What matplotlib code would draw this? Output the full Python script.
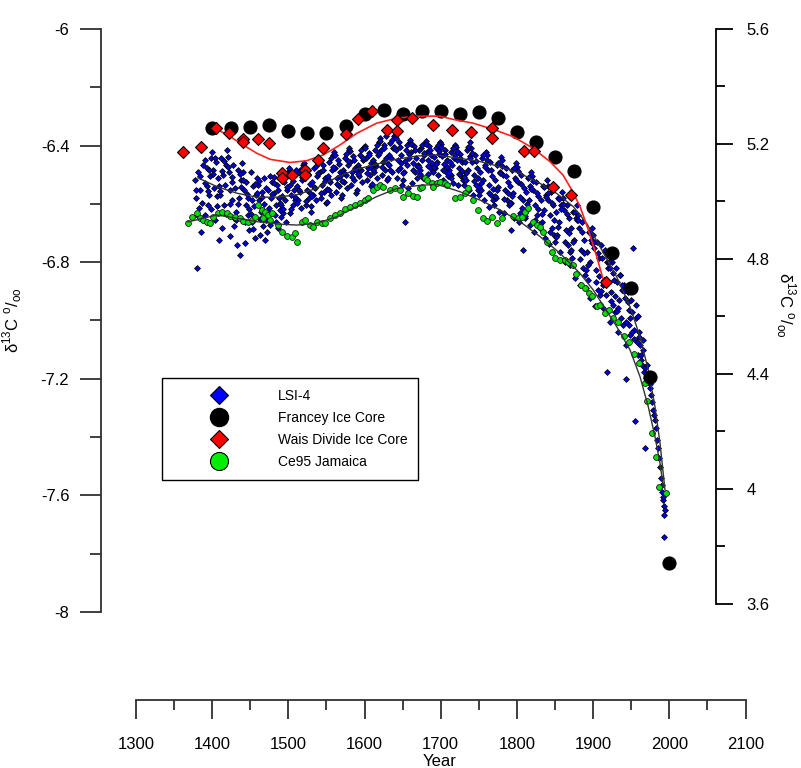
import matplotlib
matplotlib.use('Agg')
import matplotlib.pyplot as plt
from matplotlib.lines import Line2D

plt.rcParams['font.family'] = ['Liberation Sans', 'DejaVu Sans']
plt.rcParams['mathtext.fontset'] = 'custom'
plt.rcParams['mathtext.rm'] = 'Liberation Sans'

# Francey ice core (left axis)
francey_year = [1400, 1425, 1450, 1475, 1500, 1525, 1550, 1575, 1600, 1625, 1650, 1675, 1700,
                1725, 1750, 1775, 1800, 1825, 1850, 1875, 1900, 1925, 1950, 1975, 2000]
francey_d13c = [-6.341, -6.341, -6.335, -6.329, -6.350, -6.358, -6.356, -6.333, -6.292, -6.278,
                -6.292, -6.281, -6.280, -6.292, -6.285, -6.306, -6.353, -6.387, -6.438, -6.487,
                -6.612, -6.769, -6.887, -7.195, -7.833]

# Wais Divide ice core (left axis)
wais_year = [1361.3, 1385.3, 1404.6, 1422.1, 1440.8, 1440.8, 1459.7, 1474.6, 1492.0, 1492.0,
             1505.1, 1521.4, 1521.4, 1539.3, 1545.0, 1575.2, 1591.4, 1610.1, 1629.8, 1642.2,
             1642.2, 1662.6, 1689.4, 1714.4, 1740.1, 1767.6, 1767.6, 1808.9, 1822.4, 1847.3,
             1871.3, 1916.5]
wais_d13c = [-6.421, -6.406, -6.341, -6.356, -6.378, -6.387, -6.376, -6.390, -6.495, -6.512,
             -6.501, -6.484, -6.501, -6.449, -6.407, -6.361, -6.310, -6.280, -6.346, -6.312,
             -6.350, -6.305, -6.328, -6.346, -6.354, -6.341, -6.373, -6.419, -6.419, -6.541,
             -6.568, -6.867]

# smooth fit drawn through the ice core data (left axis)
wais_fit_year = [1404.6, 1423.4, 1440.8, 1458.4, 1475.9, 1502.1, 1524.0, 1545.8, 1567.7, 1589.7,
                 1615.9, 1642.2, 1668.4, 1699.0, 1716.1, 1742.3, 1768.6, 1794.8, 1821.1, 1843.4,
                 1860.5, 1871.9, 1882.8, 1893.7, 1904.7, 1913.4]
wais_fit_d13c = [-6.341, -6.369, -6.398, -6.426, -6.447, -6.458, -6.452, -6.432, -6.398, -6.358,
                 -6.323, -6.306, -6.299, -6.299, -6.310, -6.323, -6.344, -6.369, -6.409, -6.455,
                 -6.501, -6.552, -6.609, -6.689, -6.781, -6.861]

# LSI-4 (right axis), one row per decade
lsi_year = [
    1378.0, 1379.2, 1380.4, 1381.5, 1382.6, 1384.0, 1385.7, 1387.9,
    1398.8, 1397.5, 1396.2, 1394.9, 1393.4, 1392.6, 1391.1, 1390.3,
    1400.2, 1401.4, 1402.5, 1403.9, 1405.1, 1406.3, 1407.8, 1409.0,
    1419.1, 1417.9, 1416.4, 1415.2, 1413.8, 1412.7, 1411.6, 1410.4,
    1420.3, 1421.5, 1422.8, 1424.0, 1425.4, 1426.5, 1427.7, 1429.2,
    1439.1, 1437.8, 1436.7, 1435.3, 1434.0, 1432.9, 1431.6, 1430.5,
    1440.2, 1441.5, 1442.7, 1443.9, 1445.0, 1446.4, 1447.6, 1448.8,
    1459.2, 1457.9, 1456.6, 1455.3, 1454.1, 1452.8, 1451.7, 1450.4,
    1460.3, 1461.6, 1462.9, 1464.1, 1465.4, 1466.6, 1467.8, 1469.0,
    1479.0, 1477.7, 1476.4, 1475.1, 1473.9, 1472.6, 1471.5, 1470.2,
    1480.5, 1481.7, 1482.8, 1484.0, 1485.3, 1486.6, 1487.9, 1489.1,
    1499.0, 1497.8, 1496.5, 1495.2, 1493.9, 1492.6, 1491.4, 1490.3,
    1500.4, 1501.5, 1502.7, 1504.0, 1505.2, 1506.6, 1507.8, 1509.0,
    1518.9, 1517.6, 1516.3, 1515.0, 1513.8, 1512.6, 1511.4, 1510.2,
    1520.3, 1521.6, 1522.9, 1524.1, 1525.3, 1526.6, 1527.8, 1529.1,
    1539.0, 1537.7, 1536.4, 1535.2, 1534.0, 1532.8, 1531.5, 1530.2,
    1540.4, 1541.6, 1542.8, 1544.1, 1545.3, 1546.5, 1547.8, 1549.0,
    1559.0, 1557.7, 1556.4, 1555.2, 1553.9, 1552.7, 1551.5, 1550.3,
    1560.2, 1561.5, 1562.8, 1564.0, 1565.3, 1566.6, 1567.8, 1569.1,
    1579.1, 1577.9, 1576.6, 1575.4, 1574.1, 1572.9, 1571.6, 1570.4,
    1580.2, 1581.5, 1582.7, 1584.0, 1585.2, 1586.5, 1587.7, 1589.0,
    1599.0, 1597.8, 1596.5, 1595.3, 1594.1, 1592.8, 1591.6, 1590.3,
    1600.4, 1601.6, 1602.9, 1604.1, 1605.3, 1606.6, 1607.8, 1609.1,
    1619.0, 1617.7, 1616.5, 1615.2, 1614.0, 1612.7, 1611.5, 1610.2,
    1620.3, 1621.6, 1622.8, 1624.1, 1625.3, 1626.6, 1627.8, 1629.1,
    1639.0, 1637.7, 1636.5, 1635.2, 1634.0, 1632.7, 1631.5, 1630.2,
    1640.4, 1641.6, 1642.9, 1644.1, 1645.4, 1646.6, 1647.8, 1649.1,
    1659.0, 1657.7, 1656.5, 1655.2, 1654.0, 1652.8, 1651.5, 1650.3,
    1660.2, 1661.5, 1662.7, 1664.0, 1665.2, 1666.4, 1667.7, 1669.0,
    1679.1, 1677.8, 1676.6, 1675.3, 1674.1, 1672.8, 1671.6, 1670.3,
    1680.2, 1681.4, 1682.7, 1683.9, 1685.2, 1686.4, 1687.7, 1688.9,
    1699.0, 1697.8, 1696.5, 1695.3, 1694.0, 1692.8, 1691.5, 1690.3,
    1700.2, 1701.5, 1702.7, 1704.0, 1705.2, 1706.5, 1707.7, 1709.0,
    1719.1, 1717.8, 1716.6, 1715.3, 1714.1, 1712.8, 1711.6, 1710.3,
    1720.2, 1721.4, 1722.7, 1723.9, 1725.2, 1726.4, 1727.7, 1728.9,
    1739.0, 1737.8, 1736.5, 1735.3, 1734.0, 1732.8, 1731.5, 1730.3,
    1740.2, 1741.5, 1742.7, 1744.0, 1745.2, 1746.5, 1747.7, 1749.0,
    1759.1, 1757.8, 1756.6, 1755.3, 1754.1, 1752.8, 1751.6, 1750.3,
    1760.2, 1761.4, 1762.7, 1763.9, 1765.2, 1766.4, 1767.7, 1768.9,
    1779.0, 1777.8, 1776.5, 1775.3, 1774.0, 1772.8, 1771.5, 1770.3,
    1780.2, 1781.5, 1782.7, 1784.0, 1785.2, 1786.5, 1787.7, 1789.0,
    1799.1, 1797.8, 1796.6, 1795.3, 1794.1, 1792.8, 1791.6, 1790.3,
    1800.2, 1801.4, 1802.7, 1803.9, 1805.2, 1806.4, 1807.7, 1808.9,
    1819.0, 1817.8, 1816.5, 1815.3, 1814.0, 1812.8, 1811.5, 1810.3,
    1820.2, 1821.5, 1822.7, 1824.0, 1825.2, 1826.5, 1827.7, 1829.0,
    1839.1, 1837.8, 1836.6, 1835.3, 1834.1, 1832.8, 1831.6, 1830.3,
    1840.2, 1841.4, 1842.7, 1843.9, 1845.2, 1846.4, 1847.7, 1848.9,
    1859.0, 1857.8, 1856.5, 1855.3, 1854.0, 1852.8, 1851.5, 1850.3,
    1860.2, 1861.5, 1862.7, 1864.0, 1865.2, 1866.5, 1867.7, 1869.0,
    1879.0, 1877.8, 1876.5, 1875.3, 1874.0, 1872.8, 1871.5, 1870.3,
    1880.2, 1881.4, 1882.7, 1883.9, 1885.2, 1886.4, 1887.7, 1888.9,
    1899.0, 1897.8, 1896.5, 1895.3, 1894.0, 1892.8, 1891.5, 1890.3,
    1900.2, 1901.5, 1902.7, 1904.0, 1905.2, 1906.5, 1907.7, 1909.0,
    1910.3, 1911.5, 1912.8, 1914.0, 1915.3, 1916.5, 1917.8, 1919.0,
    1920.2, 1921.5, 1922.7, 1924.0, 1925.2, 1926.5, 1927.7, 1929.0,
    1930.3, 1931.5, 1932.8, 1934.0, 1935.3, 1936.5, 1937.8, 1939.0,
    1940.2, 1941.5, 1942.7, 1943.5, 1945.2, 1946.5, 1947.7, 1949.0,
    1950.3, 1951.5, 1952.8, 1954.0, 1955.3, 1956.5, 1957.8, 1959.0,
    1960.2, 1961.5, 1962.7, 1964.0, 1965.2, 1966.5, 1967.7, 1969.0,
    1970.3, 1971.5, 1972.8, 1974.0, 1975.3, 1976.5, 1977.8, 1979.0,
    1980.2, 1981.5, 1982.7, 1984.0, 1985.2, 1986.5, 1987.7, 1989.0,
    1990.0, 1990.8, 1991.5, 1992.1, 1992.6, 1993.0, 1992.4, 1994.0,
]
lsi_d13c = [
    5.075, 5.012, 4.769, 5.103, 4.978, 5.040, 4.894, 5.127,
    5.151, 5.089, 5.023, 4.988, 5.117, 5.054, 4.953, 5.144,
    5.172, 5.110, 5.047, 4.936, 5.137, 5.019, 5.082, 4.866,
    5.179, 5.127, 5.057, 4.988, 5.092, 4.908, 5.151, 5.023,
    5.155, 5.103, 5.040, 4.880, 5.068, 5.005, 5.127, 4.943,
    5.134, 5.075, 4.814, 5.012, 5.110, 4.849, 4.964, 5.047,
    5.103, 5.040, 4.856, 4.988, 5.068, 4.953, 5.012, 4.902,
    5.082, 5.023, 4.873, 4.984, 5.054, 4.929, 5.005, 5.103,
    5.057, 5.005, 4.884, 4.964, 5.033, 4.915, 5.082, 4.866,
    5.068, 5.012, 4.918, 4.978, 5.040, 4.953, 4.894, 5.047,
    5.085, 5.030, 4.953, 4.988, 5.057, 4.908, 5.012, 4.971,
    5.103, 5.040, 4.929, 5.005, 5.068, 4.960, 5.019, 4.988,
    5.117, 5.057, 4.960, 5.023, 5.089, 4.988, 5.040, 5.005,
    5.127, 5.075, 4.978, 5.033, 5.103, 5.005, 5.054, 5.110,
    5.134, 5.082, 4.988, 5.040, 5.110, 5.012, 5.061, 4.964,
    5.137, 5.089, 5.005, 5.047, 5.117, 5.023, 5.068, 4.984,
    5.151, 5.103, 5.012, 5.057, 5.127, 5.033, 5.082, 4.995,
    5.162, 5.110, 5.023, 5.068, 5.137, 5.040, 5.089, 4.998,
    5.172, 5.117, 5.033, 5.082, 5.144, 5.054, 5.103, 5.012,
    5.179, 5.127, 5.047, 5.092, 5.151, 5.068, 5.110, 5.023,
    5.186, 5.137, 5.057, 5.103, 5.158, 5.075, 5.117, 5.030,
    5.190, 5.144, 5.068, 5.110, 5.162, 5.089, 5.127, 5.040,
    5.193, 5.151, 5.075, 5.117, 5.169, 5.092, 5.134, 5.054,
    5.207, 5.162, 5.082, 5.123, 5.179, 5.103, 5.144, 5.061,
    5.221, 5.179, 5.092, 5.137, 5.197, 5.110, 5.228, 5.075,
    5.228, 5.186, 5.103, 5.151, 5.204, 5.127, 5.162, 5.082,
    5.231, 5.179, 5.082, 5.144, 5.207, 5.117, 5.162, 5.057,
    5.207, 5.151, 5.047, 5.127, 5.179, 4.929, 5.103, 5.075,
    5.214, 5.172, 5.064, 5.134, 5.193, 5.103, 5.151, 5.082,
    5.204, 5.162, 5.082, 5.144, 5.186, 5.110, 5.179, 5.127,
    5.211, 5.172, 5.096, 5.144, 5.193, 5.120, 5.162, 5.110,
    5.207, 5.165, 5.092, 5.137, 5.186, 5.117, 5.155, 5.103,
    5.200, 5.158, 5.075, 5.130, 5.179, 5.103, 5.144, 5.089,
    5.197, 5.151, 5.064, 5.127, 5.172, 5.092, 5.137, 5.110,
    5.190, 5.144, 5.057, 5.117, 5.165, 5.089, 5.137, 5.075,
    5.207, 5.158, 5.040, 5.110, 5.179, 5.075, 5.137, 5.057,
    5.186, 5.137, 5.023, 5.092, 5.162, 5.057, 5.117, 5.040,
    5.172, 5.127, 5.005, 5.075, 5.151, 5.040, 5.103, 5.023,
    5.162, 5.110, 4.981, 5.057, 5.137, 5.023, 5.089, 5.005,
    5.155, 5.103, 4.964, 5.050, 5.127, 5.012, 5.075, 4.988,
    5.144, 5.092, 4.960, 5.040, 5.117, 5.005, 5.068, 4.988,
    5.134, 5.082, 4.943, 5.030, 5.110, 4.995, 4.901, 5.054,
    5.120, 5.068, 4.929, 5.016, 5.092, 4.978, 4.831, 5.047,
    5.103, 5.054, 4.918, 5.005, 5.082, 4.971, 5.033, 4.943,
    5.089, 5.040, 4.894, 4.988, 5.068, 4.953, 5.019, 4.922,
    5.075, 5.023, 4.873, 4.971, 5.054, 4.929, 5.005, 4.908,
    5.054, 5.005, 4.852, 4.953, 5.033, 4.908, 4.988, 4.884,
    5.033, 4.988, 4.824, 4.929, 5.012, 4.884, 4.964, 4.859,
    5.012, 4.971, 4.790, 4.901, 4.988, 4.849, 4.943, 4.824,
    4.988, 4.943, 4.734, 4.866, 4.964, 4.804, 4.908, 4.779,
    4.953, 4.908, 4.710, 4.831, 4.929, 4.769, 4.866, 4.744,
    4.908, 4.866, 4.665, 4.790, 4.894, 4.727, 4.824, 4.699,
    4.884, 4.838, 4.637, 4.762, 4.859, 4.692, 4.804, 4.675,
    4.849, 4.804, 4.630, 4.727, 4.824, 4.675, 4.407, 4.769,
    4.814, 4.769, 4.581, 4.685, 4.790, 4.640, 4.727, 4.616,
    4.769, 4.720, 4.546, 4.657, 4.744, 4.595, 4.692, 4.570,
    4.710, 4.665, 4.501, 4.383, 4.685, 4.570, 4.623, 4.536,
    4.657, 4.616, 4.838, 4.553, 4.237, 4.595, 4.511, 4.466,
    4.546, 4.501, 4.466, 4.431, 4.518, 4.407, 4.143, 4.386,
    4.431, 4.397, 4.379, 4.351, 4.365, 4.327, 4.303, 4.275,
    4.258, 4.240, 4.212, 4.170, 4.143, 4.108, 4.077, 4.038,
    4.014, 3.990, 3.962, 3.972, 3.941, 3.910, 3.833, 3.927,
]

# further LSI-4 samples filling the dense part of the record, one row per two decades
lsi_year_more = [
    1378.6, 1381.0, 1383.4, 1386.8, 1395.6, 1390.8, 1398.1, 1393.9,
    1400.8, 1403.2, 1405.7, 1408.3, 1415.8, 1410.9, 1418.4, 1413.2,
    1420.9, 1423.3, 1425.9, 1428.4, 1435.9, 1430.9, 1438.4, 1433.4,
    1440.8, 1443.3, 1445.7, 1448.2, 1455.9, 1450.9, 1458.4, 1453.4,
    1460.9, 1463.4, 1465.9, 1468.4, 1475.8, 1470.8, 1478.3, 1473.3,
    1480.9, 1483.4, 1485.9, 1488.4, 1495.8, 1490.9, 1498.3, 1493.3,
    1500.9, 1503.4, 1505.9, 1508.4, 1515.8, 1510.8, 1518.3, 1513.3,
    1520.9, 1523.4, 1525.9, 1528.4, 1535.8, 1530.8, 1538.3, 1533.3,
    1540.9, 1543.4, 1545.9, 1548.4, 1555.8, 1550.8, 1558.3, 1553.3,
    1560.9, 1563.4, 1565.9, 1568.4, 1575.8, 1570.8, 1578.3, 1573.3,
    1580.9, 1583.4, 1585.9, 1588.4, 1595.8, 1590.8, 1598.3, 1593.3,
    1600.9, 1603.4, 1605.9, 1608.4, 1615.8, 1610.8, 1618.3, 1613.3,
    1620.9, 1623.4, 1625.9, 1628.4, 1635.8, 1630.8, 1638.3, 1633.3,
    1640.9, 1643.4, 1645.9, 1648.4, 1655.8, 1650.8, 1658.3, 1653.3,
    1660.9, 1663.4, 1665.9, 1668.4, 1675.8, 1670.8, 1678.3, 1673.3,
    1680.9, 1683.4, 1685.9, 1688.4, 1695.8, 1690.8, 1698.3, 1693.3,
    1700.9, 1703.4, 1705.9, 1708.4, 1715.8, 1710.8, 1718.3, 1713.3,
    1720.9, 1723.4, 1725.9, 1728.4, 1735.8, 1730.8, 1738.3, 1733.3,
    1740.9, 1743.4, 1745.9, 1748.4, 1755.8, 1750.8, 1758.3, 1753.3,
    1760.9, 1763.4, 1765.9, 1768.4, 1775.8, 1770.8, 1778.3, 1773.3,
    1780.9, 1783.4, 1785.8, 1788.4, 1795.8, 1790.8, 1798.3, 1793.3,
    1800.9, 1803.4, 1805.8, 1808.3, 1815.8, 1810.9, 1818.3, 1813.4,
    1820.8, 1823.3, 1825.8, 1828.3, 1835.8, 1830.9, 1838.3, 1833.4,
    1840.8, 1843.3, 1845.8, 1848.3, 1855.8, 1850.9, 1858.3, 1853.4,
    1860.8, 1863.3, 1865.8, 1868.3, 1875.8, 1870.9, 1878.3, 1873.4,
    1880.8, 1883.3, 1885.8, 1888.3, 1895.8, 1890.9, 1898.3, 1893.3,
    1900.8, 1903.3, 1905.8, 1908.3, 1915.8, 1910.9, 1918.3, 1913.3,
    1920.8, 1923.3, 1925.8, 1928.3, 1935.8, 1930.9, 1938.3, 1933.3,
    1940.8, 1943.3, 1945.8, 1948.3, 1955.8, 1950.9, 1958.3, 1953.3,
    1960.8, 1963.3, 1965.8, 1968.3,
]
lsi_d13c_more = [
    5.040, 4.950, 5.090, 4.995, 5.110, 5.065, 4.975, 5.035,
    5.095, 5.150, 4.985, 5.055, 5.140, 5.035, 4.955, 5.105,
    5.120, 4.990, 5.085, 4.915, 5.095, 4.935, 5.050, 4.990,
    5.075, 4.930, 5.025, 4.975, 5.060, 4.955, 5.030, 4.905,
    5.070, 4.940, 5.015, 4.990, 5.090, 4.935, 5.025, 4.965,
    5.065, 4.930, 5.040, 4.995, 5.085, 4.945, 5.050, 4.975,
    5.100, 4.975, 5.070, 5.015, 5.110, 4.995, 5.085, 5.040,
    5.120, 5.000, 5.095, 5.030, 5.125, 5.020, 5.100, 5.050,
    5.140, 5.030, 5.110, 5.070, 5.150, 5.045, 5.120, 5.075,
    5.160, 5.060, 5.130, 5.090, 5.165, 5.070, 5.140, 5.100,
    5.175, 5.085, 5.145, 5.110, 5.180, 5.095, 5.150, 5.115,
    5.185, 5.100, 5.160, 5.120, 5.195, 5.110, 5.170, 5.130,
    5.210, 5.120, 5.185, 5.150, 5.215, 5.130, 5.190, 5.110,
    5.220, 5.110, 5.190, 5.135, 5.195, 5.100, 5.165, 5.140,
    5.200, 5.110, 5.180, 5.125, 5.195, 5.120, 5.170, 5.095,
    5.200, 5.125, 5.180, 5.135, 5.195, 5.120, 5.175, 5.130,
    5.190, 5.110, 5.165, 5.120, 5.185, 5.100, 5.160, 5.080,
    5.175, 5.095, 5.150, 5.105, 5.190, 5.085, 5.150, 5.100,
    5.170, 5.070, 5.140, 5.080, 5.160, 5.050, 5.120, 5.065,
    5.145, 5.030, 5.110, 5.045, 5.135, 5.020, 5.100, 5.040,
    5.125, 5.010, 5.090, 5.030, 5.115, 4.995, 5.075, 5.020,
    5.105, 4.960, 5.060, 5.005, 5.085, 4.950, 5.045, 4.990,
    5.070, 4.935, 5.030, 4.975, 5.050, 4.920, 5.015, 4.955,
    5.030, 4.895, 4.995, 4.935, 5.010, 4.875, 4.975, 4.910,
    4.990, 4.860, 4.955, 4.890, 4.965, 4.830, 4.935, 4.860,
    4.935, 4.800, 4.895, 4.820, 4.890, 4.760, 4.855, 4.780,
    4.860, 4.720, 4.820, 4.740, 4.830, 4.690, 4.790, 4.710,
    4.790, 4.655, 4.750, 4.670, 4.745, 4.620, 4.710, 4.630,
    4.690, 4.580, 4.650, 4.595, 4.640, 4.545, 4.600, 4.520,
    4.530, 4.450, 4.485, 4.420,
]

# Ce95 Jamaica (right axis)
jam_year = [1368.6, 1373.1, 1379.7, 1384.0, 1388.3, 1392.8, 1397.1, 1401.5, 1408.0, 1412.5,
            1419.0, 1423.4, 1429.9, 1436.5, 1440.8, 1447.4, 1451.9, 1456.2, 1460.5, 1465.0,
            1467.1, 1469.3, 1473.6, 1475.9, 1478.1, 1486.8, 1491.2, 1497.8, 1504.4, 1508.7,
            1510.9, 1517.5, 1521.8, 1528.4, 1532.7, 1537.2, 1543.7, 1548.1, 1554.6, 1561.2,
            1567.8, 1574.3, 1580.9, 1587.4, 1594.0, 1600.6, 1604.9, 1611.5, 1615.9, 1620.3,
            1624.6, 1633.4, 1639.9, 1646.5, 1650.8, 1657.4, 1664.0, 1668.4, 1672.8, 1675.0,
            1679.3, 1681.5, 1688.1, 1690.2, 1694.7, 1699.0, 1705.6, 1707.8, 1718.7, 1725.3,
            1731.8, 1736.1, 1742.7, 1749.3, 1755.0, 1760.3, 1766.9, 1773.4, 1780.0, 1795.2,
            1801.8, 1806.2, 1810.6, 1814.9, 1821.5, 1825.9, 1830.3, 1834.6, 1839.0, 1845.6,
            1849.9, 1856.5, 1863.1, 1867.4, 1873.1, 1877.5, 1883.7, 1889.3, 1895.0, 1898.9,
            1904.7, 1909.0, 1915.6, 1921.2, 1925.7, 1933.0, 1940.5, 1947.5, 1954.0, 1960.6,
            1968.1, 1971.1, 1976.8, 1982.5, 1986.4, 1995.6]
jam_d13c = [4.926, 4.947, 4.959, 4.942, 4.936, 4.930, 4.924, 4.947, 4.959, 4.965,
            4.961, 4.950, 4.947, 4.942, 4.933, 4.930, 4.936, 4.947, 4.988, 4.970,
            4.942, 4.965, 4.953, 4.936, 4.959, 4.918, 4.895, 4.880, 4.878, 4.889,
            4.860, 4.930, 4.936, 4.918, 4.912, 4.930, 4.924, 4.926, 4.942, 4.953,
            4.959, 4.973, 4.982, 4.988, 4.994, 5.005, 5.011, 5.040, 5.051, 5.057,
            5.051, 5.040, 5.046, 5.040, 5.017, 5.029, 5.019, 5.017, 5.046, 5.051,
            5.081, 5.075, 5.063, 5.051, 5.065, 5.069, 5.065, 5.057, 5.011, 5.017,
            5.029, 5.046, 5.005, 4.971, 4.942, 4.933, 4.947, 4.924, 4.942, 4.950,
            4.942, 4.947, 4.965, 4.976, 4.930, 4.918, 4.912, 4.895, 4.860, 4.825,
            4.802, 4.797, 4.797, 4.791, 4.779, 4.748, 4.710, 4.698, 4.681, 4.672,
            4.637, 4.640, 4.613, 4.623, 4.594, 4.582, 4.532, 4.512, 4.470, 4.439,
            4.368, 4.307, 4.196, 4.110, 4.008, 3.985]

# smooth fits through LSI-4 and Ce95 (right axis)
lsi_fit_year = [1381.4, 1405.9, 1432.2, 1458.4, 1484.7, 1510.9, 1537.2, 1563.4, 1589.7, 1615.9,
                1642.2, 1668.4, 1694.7, 1725.3, 1751.5, 1777.8, 1804.0, 1830.3, 1852.2, 1874.0,
                1891.5, 1909.0, 1930.9, 1948.4, 1961.5, 1972.4, 1981.2, 1987.8, 1994.3]
lsi_fit_d13c = [5.082, 5.052, 5.029, 5.015, 5.015, 5.023, 5.046, 5.084, 5.112, 5.130,
                5.147, 5.158, 5.162, 5.150, 5.139, 5.121, 5.098, 5.063, 5.028, 4.982,
                4.924, 4.843, 4.738, 4.634, 4.530, 4.414, 4.286, 4.159, 3.997]
jam_fit_year = [1368.3, 1405.9, 1432.2, 1458.4, 1484.7, 1510.9, 1537.2, 1563.4, 1589.7, 1615.9,
                1642.2, 1668.4, 1694.7, 1725.3, 1751.5, 1777.8, 1804.0, 1830.3, 1856.5, 1882.8,
                1900.2, 1930.9, 1948.4, 1961.5, 1972.4, 1981.2, 1987.8, 1992.1]
jam_fit_d13c = [4.929, 4.953, 4.942, 4.930, 4.922, 4.918, 4.924, 4.947, 4.982, 5.017,
                5.045, 5.055, 5.060, 5.034, 5.005, 4.971, 4.930, 4.878, 4.820, 4.750,
                4.692, 4.565, 4.484, 4.391, 4.286, 4.182, 4.089, 4.008]

left_ticks = [-8, -7.6, -7.2, -6.8, -6.4, -6]
left_tick_labels = ['-8', '-7.6', '-7.2', '-6.8', '-6.4', '-6']
right_ticks = [3.6, 4.0, 4.4, 4.8, 5.2, 5.6]
right_tick_labels = ['3.6', '4', '4.4', '4.8', '5.2', '5.6']
year_ticks = list(range(1300, 2101, 100))

# layout in figure pixels
W, H = 801, 768
px_left, px_right, px_top, px_bot = 100.7, 745.5, 29, 700

fig = plt.figure(figsize=(W / 100, H / 100), dpi=100)
ax = fig.add_axes([px_left / W, 1 - px_bot / H, (px_right - px_left) / W, (px_bot - px_top) / H])
ax2 = ax.twinx()
# ice-core markers sit above the LSI-4 / coral cloud
ax.set_zorder(ax2.get_zorder() + 1)
ax.patch.set_visible(False)

ax.set_xlim(1253.67, 2100)
ax.set_ylim(-8.302, -6)
ax2.set_ylim(3.266, 5.6)

spine_col = '#303030'
for s in ['top', 'right']:
    ax.spines[s].set_visible(False)
for s in ['top', 'left', 'bottom']:
    ax2.spines[s].set_visible(False)
ax.spines['left'].set_bounds(-8, -6)
ax.spines['bottom'].set_bounds(1300, 2100)
ax.spines['left'].set_color(spine_col)
ax.spines['bottom'].set_color(spine_col)
ax.spines['left'].set_linewidth(1.3)
ax.spines['bottom'].set_linewidth(1.3)
ax2.spines['right'].set_position(('axes', (716 - px_left) / (px_right - px_left)))
ax2.spines['right'].set_bounds(3.6, 5.6)
ax2.spines['right'].set_linewidth(1.3)

ax.set_xticks(year_ticks)
ax.set_xticks(list(range(1350, 2100, 100)), minor=True)
ax.set_yticks(left_ticks)
ax.set_yticklabels(left_tick_labels)
ax.set_yticks([-7.8, -7.4, -7.0, -6.6, -6.2], minor=True)
ax2.set_yticks(right_ticks)
ax2.set_yticklabels(right_tick_labels)
ax2.set_yticks([3.8, 4.2, 4.6, 5.0, 5.4], minor=True)

ax.tick_params(axis='x', which='major', direction='out', length=13.7, width=1.3,
               color=spine_col, labelsize=12, pad=13)
ax.tick_params(axis='x', which='minor', direction='out', length=7.2, width=1.3, color=spine_col)
ax.tick_params(axis='y', which='major', direction='out', length=14.9, width=1.3,
               color=spine_col, labelsize=12, pad=7.7)
ax.tick_params(axis='y', which='minor', direction='out', length=7.9, width=1.3, color=spine_col)
ax2.tick_params(axis='y', which='major', direction='out', length=12.4, width=1.3,
                labelsize=12, pad=9.6)
ax2.tick_params(axis='y', which='minor', direction='out', length=6.5, width=1.3)

# right-axis series
ax2.plot(lsi_year + lsi_year_more, lsi_d13c + lsi_d13c_more, ls='none', marker='D', ms=3.0,
         mfc='#0000e0', mec='black', mew=0.55, zorder=2)
ax2.plot(jam_year, jam_d13c, ls='none', marker='o', ms=4.2, mfc='#00e000', mec='#1a1a1a',
         mew=0.6, zorder=3)
ax2.plot(lsi_fit_year, lsi_fit_d13c, color='#333333', lw=1.0, zorder=4)
ax2.plot(jam_fit_year, jam_fit_d13c, color='#333333', lw=1.0, zorder=4)

# left-axis series
ax.plot(francey_year, francey_d13c, ls='none', marker='o', ms=9.2, mfc='black', mec='black',
        zorder=5)
ax.plot(wais_fit_year, wais_fit_d13c, color='#ff2020', lw=1.2, zorder=6)
ax.plot(wais_year, wais_d13c, ls='none', marker='D', ms=6.0, mfc='#ff0000', mec='black',
        mew=0.8, zorder=7)

label = 'δ$^{\\mathrm{13}}$C $^{\\mathrm{o}}$/$_{\\mathrm{oo}}$'
fig.text(12 / W, 1 - 320 / H, label, rotation=90, ha='center', va='center', fontsize=12)
fig.text(786 / W, 1 - 305 / H, label, rotation=270, ha='center', va='center', fontsize=12)
fig.text(440 / W, 1 - 761 / H, 'Year', ha='center', va='center', fontsize=12)

handles = [
    Line2D([], [], ls='none', marker='D', ms=9.2, mfc='#0000ff', mec='black', mew=0.8),
    Line2D([], [], ls='none', marker='o', ms=13, mfc='black', mec='black'),
    Line2D([], [], ls='none', marker='D', ms=9.2, mfc='#ff0000', mec='black', mew=0.8),
    Line2D([], [], ls='none', marker='o', ms=13, mfc='#00ee00', mec='black', mew=0.8),
]
names = ['LSI-4', 'Francey Ice Core', 'Wais Divide Ice Core', 'Ce95 Jamaica']
leg = fig.legend(handles, names, loc='upper left', bbox_to_anchor=(161.7 / W, 1 - 378 / H),
                 frameon=True, fancybox=False, edgecolor='black', framealpha=1, fontsize=10,
                 borderpad=0.8, handlelength=6.6, handletextpad=0.94, labelspacing=0.57,
                 borderaxespad=0)
leg.get_frame().set_linewidth(1.0)

fig.savefig('out.png', dpi=100)
